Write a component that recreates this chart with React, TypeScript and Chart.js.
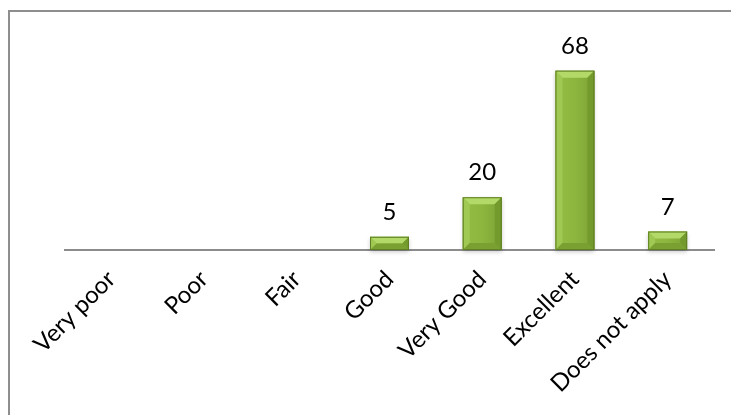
import React, { useEffect, useRef } from "react";
import { Chart, registerables } from "chart.js";

Chart.register(...registerables);

const categories = ["Very poor", "Poor", "Fair", "Good", "Very Good", "Excellent", "Does not apply"];
const values = [0, 0, 0, 5, 20, 68, 7];
const yMin = 0;
const yMax = 80;

const FONT = "Lato, 'Open Sans', sans-serif";

const bevelPlugin = {
  id: "bevel",
  beforeDatasetsDraw(chart: any) {
    const ctx = chart.ctx;
    const meta = chart.getDatasetMeta(0);
    ctx.save();
    meta.data.forEach((bar: any, i: number) => {
      if (!values[i]) return;
      const w = bar.width;
      const x0 = bar.x - w / 2;
      ctx.shadowColor = "rgba(0,0,0,0.35)";
      ctx.shadowBlur = 4;
      ctx.shadowOffsetY = 2;
      ctx.fillStyle = "rgba(120,120,120,0.6)";
      ctx.fillRect(x0, bar.y, w, bar.base - bar.y);
    });
    ctx.restore();
  },
  afterDatasetsDraw(chart: any) {
    const ctx = chart.ctx;
    const meta = chart.getDatasetMeta(0);
    ctx.save();
    meta.data.forEach((bar: any, i: number) => {
      if (!values[i]) return;
      const w = bar.width;
      const x0 = bar.x - w / 2;
      const x1 = bar.x + w / 2;
      const t = bar.y;
      const b = bar.base;
      const h = b - t;
      const bv = Math.min(7, h / 2, w / 2);
      const poly = (pts: number[][], color: string) => {
        ctx.beginPath();
        ctx.moveTo(pts[0][0], pts[0][1]);
        for (let k = 1; k < pts.length; k++) ctx.lineTo(pts[k][0], pts[k][1]);
        ctx.closePath();
        ctx.fillStyle = color;
        ctx.fill();
      };
      const g = ctx.createLinearGradient(x0, 0, x1, 0);
      g.addColorStop(0, "#93bd45");
      g.addColorStop(0.5, "#8cb63e");
      g.addColorStop(1, "#7ea336");
      poly([[x0, t], [x1, t], [x1, b], [x0, b]], g);
      poly([[x0, t], [x1, t], [x1 - bv, t + bv], [x0 + bv, t + bv]], "#b3da69");
      poly([[x0, t], [x0 + bv, t + bv], [x0 + bv, b - bv], [x0, b]], "#9fc952");
      poly([[x1, t], [x1 - bv, t + bv], [x1 - bv, b - bv], [x1, b]], "#739a2d");
      poly([[x0, b], [x0 + bv, b - bv], [x1 - bv, b - bv], [x1, b]], "#7ba032");
      ctx.strokeStyle = "#5e7f22";
      ctx.lineWidth = 1;
      ctx.strokeRect(x0 + 0.5, t + 0.5, w - 1, h - 1);
    });
    ctx.fillStyle = "#000";
    ctx.font = `24px ${FONT}`;
    ctx.textAlign = "center";
    ctx.textBaseline = "alphabetic";
    meta.data.forEach((bar: any, i: number) => {
      if (!values[i]) return;
      ctx.fillText(String(values[i]), bar.x, bar.y - 17);
    });
    ctx.restore();
  },
};

export default function App() {
  const ref = useRef<HTMLCanvasElement>(null);
  useEffect(() => {
    if (!ref.current) return;
    const chart = new Chart(ref.current, {
      type: "bar",
      data: {
        labels: categories,
        datasets: [
          {
            data: values,
            backgroundColor: "rgba(0,0,0,0)",
            borderWidth: 0,
            barPercentage: 0.42,
            categoryPercentage: 1,
          },
        ],
      },
      options: {
        animation: false,
        responsive: false,
        maintainAspectRatio: false,
        layout: { padding: { left: 65, right: 17, top: 39, bottom: 0 } },
        plugins: { legend: { display: false }, tooltip: { enabled: false } },
        scales: {
          x: {
            grid: { display: false },
            border: { display: true, color: "#8c8c8c", width: 2 },
            ticks: {
              autoSkip: false,
              maxRotation: 45,
              minRotation: 45,
              padding: 7,
              color: "#000",
              font: { family: FONT, size: 24 },
            },
            afterFit: (scale: any) => {
              scale.height = 165;
            },
          },
          y: {
            display: false,
            min: yMin,
            max: yMax,
          },
        },
      },
      plugins: [bevelPlugin],
    });
    return () => chart.destroy();
  }, []);
  return (
    <div
      style={{
        position: "fixed",
        left: 0,
        top: 0,
        width: 731,
        height: 415,
        overflow: "hidden",
        background: "#fff",
      }}
    >
      <div
        style={{
          position: "absolute",
          left: 8,
          top: 10,
          width: 760,
          height: 440,
          border: "2px solid #8e8e8e",
          boxSizing: "border-box",
        }}
      />
      <canvas
        ref={ref}
        width={731}
        height={415}
        style={{ position: "absolute", left: 0, top: 0, width: 731, height: 415 }}
      />
    </div>
  );
}
